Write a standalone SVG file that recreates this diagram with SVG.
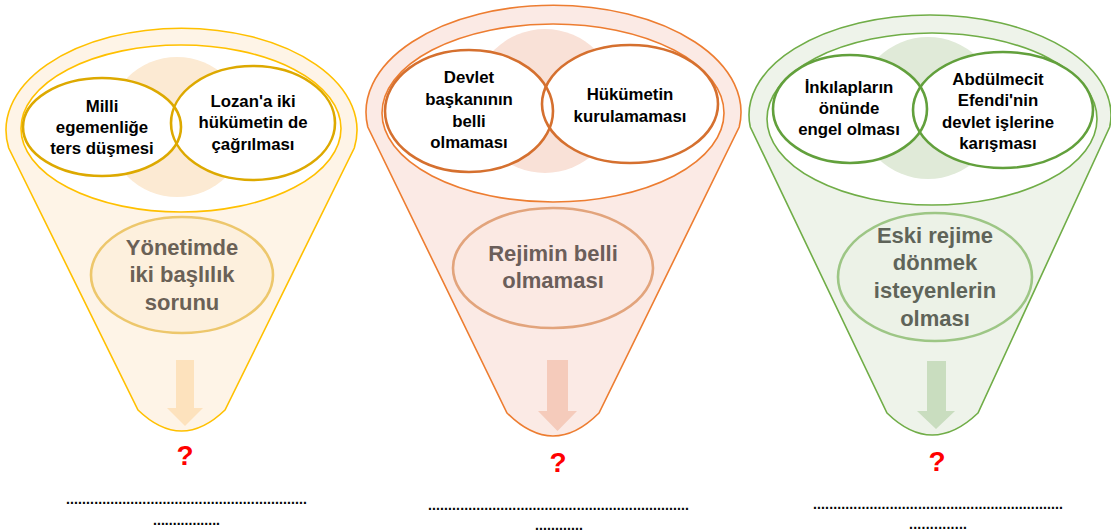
<svg xmlns="http://www.w3.org/2000/svg" width="1111" height="532" viewBox="0 0 1111 532">
<style>
.t{font-family:"Liberation Sans",Arial,sans-serif;font-weight:bold;font-size:16.8px;fill:#000;text-anchor:middle}
.m{font-family:"Liberation Sans",Arial,sans-serif;font-weight:bold;font-size:22px;text-anchor:middle}
.q{font-family:"Liberation Sans",Arial,sans-serif;font-weight:bold;font-size:28px;fill:#FF0000;text-anchor:middle}
.d{font-family:"Liberation Sans",Arial,sans-serif;font-weight:bold;font-size:14px;fill:#000}
.w{fill:#fff}
.y1{fill:#FEF4E7;stroke:#FFC000;stroke-width:1.6}
.y2{fill:none;stroke:#DDA900;stroke-width:2.6}
.o1{fill:#FBEAE5;stroke:#ED7D31;stroke-width:1.6}
.o2{fill:none;stroke:#D5702F;stroke-width:2.6}
.g1{fill:#EEF3EA;stroke:#70AD47;stroke-width:1.6}
.g2{fill:none;stroke:#62A03C;stroke-width:2.6}
</style>

<!-- Funnel 1 (yellow) -->
<g id="funnel1">
  <path class="y1" d="M 8.7 148 A 175.5 102 0 1 1 354.3 148 L 225 410 Q 181.5 452 138 410 Z"/>
  <ellipse class="y1" style="fill:#fff" cx="181" cy="128.5" rx="160" ry="83.5"/>
  <circle cx="177" cy="127" r="70" fill="#FCEAD3"/>
  <ellipse class="w" cx="102" cy="127" rx="79" ry="49"/>
  <ellipse class="w" cx="253" cy="123" rx="82" ry="57"/>
  <ellipse class="y2" cx="102" cy="127" rx="79" ry="49"/>
  <ellipse class="y2" cx="253" cy="123" rx="82" ry="57"/>
</g>
<g id="node-milli">
  <text class="t" x="102" y="112">Milli</text>
  <text class="t" x="102" y="133">egemenliğe</text>
  <text class="t" x="102" y="154">ters düşmesi</text>
</g>
<g id="node-lozan">
  <text class="t" x="253" y="107">Lozan'a iki</text>
  <text class="t" x="253" y="128">hükümetin de</text>
  <text class="t" x="253" y="150">çağrılması</text>
</g>
<g id="node-yonetim">
  <ellipse cx="182" cy="275" rx="91" ry="58" fill="#FDF0DD" stroke="#EDC76C" stroke-width="2.6"/>
  <text class="m" fill="#6A6156" x="182" y="255">Yönetimde</text>
  <text class="m" fill="#6A6156" x="182" y="282">iki başlılık</text>
  <text class="m" fill="#6A6156" x="182" y="310">sorunu</text>
</g>
<g id="result1">
  <text class="q" x="185" y="465">?</text>
  <text class="d" x="66" y="504" textLength="241" lengthAdjust="spacing">............................................................</text>
  <text class="d" x="153" y="525" textLength="67" lengthAdjust="spacing">.................</text>
</g>

<!-- Funnel 2 (orange) -->
<g id="funnel2">
  <path class="o1" d="M 367.8 127 A 187.5 107 0 1 1 739.2 127 L 599 413 Q 553 459 507 413 Z"/>
  <ellipse class="o1" style="fill:#fff" cx="553" cy="113" rx="171" ry="89"/>
  <circle cx="545" cy="101" r="72" fill="#F9E1D7"/>
  <ellipse class="w" cx="469" cy="111" rx="84" ry="61"/>
  <ellipse class="w" cx="630" cy="104" rx="88" ry="59"/>
  <ellipse class="o2" cx="469" cy="111" rx="84" ry="61"/>
  <ellipse class="o2" cx="630" cy="104" rx="88" ry="59"/>
</g>
<g id="node-devlet">
  <text class="t" x="469" y="83">Devlet</text>
  <text class="t" x="469" y="105">başkanının</text>
  <text class="t" x="469" y="127">belli</text>
  <text class="t" x="469" y="148">olmaması</text>
</g>
<g id="node-hukumet">
  <text class="t" x="630" y="100">Hükümetin</text>
  <text class="t" x="630" y="122">kurulamaması</text>
</g>
<g id="node-rejim">
  <ellipse cx="553" cy="268" rx="100" ry="60" fill="#FBE9E3" stroke="#E2A47C" stroke-width="2.6"/>
  <text class="m" fill="#6B5E5A" x="553" y="261">Rejimin belli</text>
  <text class="m" fill="#6B5E5A" x="553" y="288">olmaması</text>
</g>
<g id="result2">
  <text class="q" x="558" y="472">?</text>
  <text class="d" x="428" y="510" textLength="261" lengthAdjust="spacing">.................................................................</text>
  <text class="d" x="535" y="530" textLength="48" lengthAdjust="spacing">............</text>
</g>

<!-- Funnel 3 (green) -->
<g id="funnel3">
  <path class="g1" d="M 750.3 127 A 181 100 0 1 1 1109.7 127 L 978 413 Q 932 457 887 413 Z"/>
  <ellipse class="g1" style="fill:#fff" cx="932" cy="119" rx="165" ry="86"/>
  <circle cx="928" cy="108" r="71" fill="#E0EAD8"/>
  <ellipse class="w" cx="850" cy="109" rx="77" ry="54"/>
  <ellipse class="w" cx="1003" cy="110" rx="90" ry="58"/>
  <ellipse class="g2" cx="850" cy="109" rx="77" ry="54"/>
  <ellipse class="g2" cx="1003" cy="110" rx="90" ry="58"/>
</g>
<g id="node-inkilap">
  <text class="t" x="849" y="93">İnkılapların</text>
  <text class="t" x="849" y="114">önünde</text>
  <text class="t" x="849" y="135">engel olması</text>
</g>
<g id="node-abdulmecit">
  <text class="t" x="998" y="85">Abdülmecit</text>
  <text class="t" x="998" y="106">Efendi'nin</text>
  <text class="t" x="998" y="128">devlet işlerine</text>
  <text class="t" x="998" y="149">karışması</text>
</g>
<g id="node-eski">
  <ellipse cx="935" cy="277" rx="97" ry="64" fill="#ECF2E7" stroke="#9DC685" stroke-width="2.6"/>
  <text class="m" fill="#5F6459" x="935" y="243">Eski rejime</text>
  <text class="m" fill="#5F6459" x="935" y="270">dönmek</text>
  <text class="m" fill="#5F6459" x="935" y="298">isteyenlerin</text>
  <text class="m" fill="#5F6459" x="935" y="326">olması</text>
</g>
<g id="result3">
  <text class="q" x="937" y="471">?</text>
  <text class="d" x="813" y="509" textLength="250" lengthAdjust="spacing">..............................................................</text>
  <text class="d" x="909" y="529" textLength="58" lengthAdjust="spacing">..............</text>
</g>

<!-- connectors: funnel arrows -->
<g id="connectors">
  <polygon fill="#FDE2BD" points="176,360 194,360 194,408 203,408 185,426 167,408 176,408"/>
  <polygon fill="#F5CBBB" points="547,360 568,360 568,411 577,411 557.5,431 538,411 547,411"/>
  <polygon fill="#C9DDBF" points="927,361 946,361 946,411 955,411 936,429 917,411 927,411"/>
</g>
</svg>
